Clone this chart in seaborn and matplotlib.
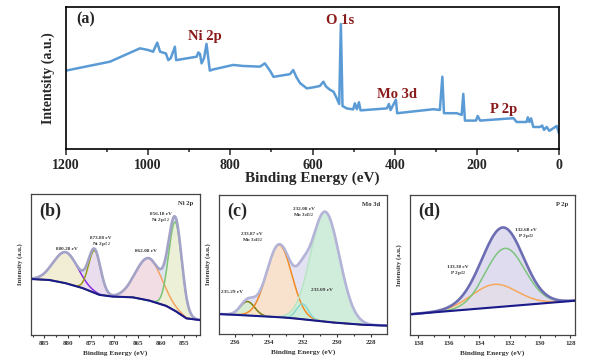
import numpy as np
import seaborn as sns
import matplotlib.pyplot as plt
from matplotlib.ticker import MultipleLocator

sns.set_theme(style="ticks")
plt.rcParams['font.family'] = ['Liberation Serif', 'DejaVu Serif']
plt.rcParams['font.weight'] = 'bold'
plt.rcParams['mathtext.fontset'] = 'custom'
plt.rcParams['mathtext.rm'] = 'Liberation Serif:bold'
plt.rcParams['mathtext.it'] = 'Liberation Serif:bold:italic'

# (a) survey spectrum (binding energy, intensity)
survey_be = [1200, 1093, 1020, 1000, 988, 978, 971, 957, 951, 945, 935, 932, 923,
             882, 878, 874, 870, 864, 858, 850, 842, 793, 770, 728, 716, 703, 695,
             655, 647, 639, 630, 614, 598, 582, 573.6, 567, 557, 549, 541, 535, 531,
             527, 517, 501, 497, 492, 487, 483, 419, 414, 410, 397, 394, 306, 290, 284,
             280, 249, 237, 233, 229, 202, 198, 192, 111, 103, 79, 76, 72, 68, 62.6,
             46, 41, 36.5, 30, 23.6, 5.6, 0]
survey_int = [55.2, 61.5, 70.9, 69.7, 68.5, 74.9, 68.5, 67.3, 62.6, 64, 72, 62.6, 63,
              65, 68, 67, 60.3, 64, 74, 55.2, 56, 59.2, 58.5, 58.0, 60.3, 54.9, 50.8,
              52.7, 55.6, 50.5, 46.3, 42.7, 43.4, 44.4, 47.4, 44, 41.6, 40.4, 35.7, 31.7, 88,
              30.3, 28.6, 27.9, 32.2, 28, 32.9, 27.2, 28.6, 31.7, 27.4, 34.7, 25.2, 28, 27.5, 50.9,
              25.2, 25.2, 24, 38.8, 20, 20, 23.3, 20, 21.7, 19, 19, 22.3, 19, 21.6, 15.5,
              15.5, 16.5, 13.5, 15.5, 12.8, 16.2, 11]
survey_tags = ["Ni 2p", "O 1s", "Mo 3d", "P 2p"]
survey_tag_x = [862, 533, 394, 134]
survey_tag_y = [79, 90.4, 38.5, 27.5]

# (b) Ni 2p : background points and fitted peaks (center, height, sigma)
ni_bg_x = [887.85, 883.8, 880.2, 876.6, 873.1, 870.2, 865.9, 862.3, 858.8, 856.6, 854.5, 851.6]
ni_bg_y = [39.7, 39.0, 36.6, 33.1, 28.4, 27.2, 26.7, 24.3, 20.6, 16.5, 11.8, 10.6]
ni_center = [880.4, 874.2, 862.6, 856.9]
ni_height = [22, 30, 30, 63]
ni_sigma = [2.6, 1.3, 2.8, 1.4]
ni_line = ['#8a2be2', '#9a9a1a', '#f4a460', '#7cc576']
ni_fill = ['#f6f1d2', '#ecdcee', '#f6dde3', '#eef3d4']
ni_labels = ["880.28 eV", "873.88 eV\nNi 2p$_{1/2}$", "862.08 eV", "856.18 eV\nNi 2p$_{3/2}$"]
ni_lab_x = [880.2, 872.8, 863.1, 860.0]
ni_lab_y = [61, 66, 59.5, 83]

# (c) Mo 3d
mo_bg_x = [237, 235, 233, 231.9, 230, 228.3, 227]
mo_bg_y = [14.4, 13.2, 11.8, 10.5, 8.0, 6.5, 6.0]
mo_center = [235.27, 233.4, 232.03, 230.7]
mo_height = [10, 52, 11, 79]
mo_sigma = [0.42, 0.74, 0.35, 0.85]
mo_line = ['#7d7d10', '#f08a24', '#88d8d0', '#b8e6c4']
mo_fill = ['#d8f0d0', '#fde3c8', '#d6f0ee', '#cdeed6']
mo_labels = ["235.29 eV", "233.87 eV\nMo 3d$_{3/2}$", "233.09 eV", "232.08 eV\nMo 3d$_{5/2}$"]
mo_lab_x = [236.16, 235.0, 230.9, 231.97]
mo_lab_y = [30, 69, 32, 87]

# (d) P 2p
p_bg_x = [138.55, 127.7]
p_bg_y = [14.8, 24.5]
p_center = [133.0, 132.3]
p_height = [16.4, 41.5]
p_sigma = [1.5, 1.3]
p_line = ['#f6a85a', '#7dc47d']
p_fill = ['#fbe5c6', '#e0dcf0']
p_labels = ["133.38 eV\nP 2p$_{1/2}$", "132.68 eV\nP 2p$_{3/2}$"]
p_lab_x = [135.4, 130.9]
p_lab_y = [46, 72]

fig = plt.figure(figsize=(5.98, 3.61), dpi=100)

# ---- (a) survey
ax = fig.add_axes([0.1104, 0.5873, 0.8244, 0.3933])
sns.lineplot(x=survey_be, y=survey_int, ax=ax, color='#5b9bd5', lw=1.8, sort=False)
ax.set_xlim(1200, 0)
ax.set_ylim(0, 100)
ax.set_yticks([])
ax.xaxis.set_major_locator(MultipleLocator(200))
ax.xaxis.set_minor_locator(MultipleLocator(100))
ax.tick_params(axis='x', which='major', length=4, width=1.1, labelsize=10, pad=3)
ax.tick_params(axis='x', which='minor', length=2.5, width=1.1)
for s in ax.spines.values():
    s.set_linewidth(1.2)
    s.set_color('black')
ax.set_xlabel("Binding Energy (eV)", fontsize=11, fontweight='bold', labelpad=0)
ax.set_ylabel("Intentsity (a.u.)", fontsize=10, fontweight='bold', labelpad=8)
ax.text(0.02, 0.91, "(a)", transform=ax.transAxes, fontsize=11.5, fontweight='bold', va='center')
for t, x, y in zip(survey_tags, survey_tag_x, survey_tag_y):
    ax.text(x, y, t, color='#8b1a1a', fontsize=10.5, fontweight='bold', ha='center', va='center')


def gauss(x, c, h, s):
    return h * np.exp(-(x - c) ** 2 / (2 * s ** 2))


def panel(rect, xlim, bgx, bgy, cen, hei, sig, lcol, fcol, env_col, env_fill,
          labels, lx, ly, tag, letter, major, minor):
    a = fig.add_axes(rect)
    x = np.linspace(min(xlim), max(xlim), 600)
    order = np.argsort(bgx)
    bg = np.interp(x, np.array(bgx)[order], np.array(bgy)[order])
    comps = [gauss(x, c, h, s) for c, h, s in zip(cen, hei, sig)]
    env = bg + np.sum(comps, axis=0)
    a.fill_between(x, bg, env, color=env_fill, lw=0)
    for comp, fc in zip(comps, fcol):
        a.fill_between(x, bg, bg + comp, color=fc, lw=0, alpha=0.85)
    for comp, lc in zip(comps, lcol):
        sns.lineplot(x=x, y=bg + comp, ax=a, color=lc, lw=1.1)
    sns.lineplot(x=x, y=env, ax=a, color=env_col, lw=1.9)
    sns.lineplot(x=x, y=bg, ax=a, color='#1a1a8a', lw=1.5)
    a.set_xlim(*xlim)
    a.set_ylim(0, 100)
    a.set_yticks([])
    a.xaxis.set_major_locator(MultipleLocator(major))
    a.xaxis.set_minor_locator(MultipleLocator(minor))
    a.tick_params(axis='x', which='major', length=2.5, width=0.8, labelsize=5, pad=2, colors='#333333')
    a.tick_params(axis='x', which='minor', length=1.5, width=0.8, colors='#333333')
    for s in a.spines.values():
        s.set_linewidth(0.9)
        s.set_color('#444444')
    a.set_xlabel("Binding Energy (eV)", fontsize=5.2, fontweight='bold', labelpad=3, color='#333333')
    a.set_ylabel("Intensity (a.u.)", fontsize=4.8, fontweight='bold', labelpad=6, color='#333333')
    for t, tx, ty in zip(labels, lx, ly):
        a.text(tx, ty, t, fontsize=3.8, fontweight='bold', ha='center', va='center',
               color='#333333', linespacing=1.0)
    a.text(0.96, 0.93, tag, transform=a.transAxes, fontsize=4.8, fontweight='bold',
           ha='right', va='center', color='#333333')
    a.text(0.05, 0.88, letter, transform=a.transAxes, fontsize=13, fontweight='bold',
           ha='left', va='center')
    return a


panel([0.0518, 0.0720, 0.2826, 0.3906], (887.85, 851.6), ni_bg_x, ni_bg_y, ni_center, ni_height,
      ni_sigma, ni_line, ni_fill, '#a3a3c8', '#dfe3ee', ni_labels, ni_lab_x, ni_lab_y,
      "Ni 2p", "(b)", 5, 2.5)
panel([0.3662, 0.0748, 0.2809, 0.3850], (236.95, 227.05), mo_bg_x, mo_bg_y, mo_center, mo_height,
      mo_sigma, mo_line, mo_fill, '#b4b4d8', '#e2e2f2', mo_labels, mo_lab_x, mo_lab_y,
      "Mo 3d", "(c)", 2, 1)
panel([0.6856, 0.0720, 0.2759, 0.3878], (138.55, 127.7), p_bg_x, p_bg_y, p_center, p_height,
      p_sigma, p_line, p_fill, '#6d6db3', '#e0dcf0', p_labels, p_lab_x, p_lab_y,
      "P 2p", "(d)", 2, 1)

fig.savefig("out.png", dpi=100)
